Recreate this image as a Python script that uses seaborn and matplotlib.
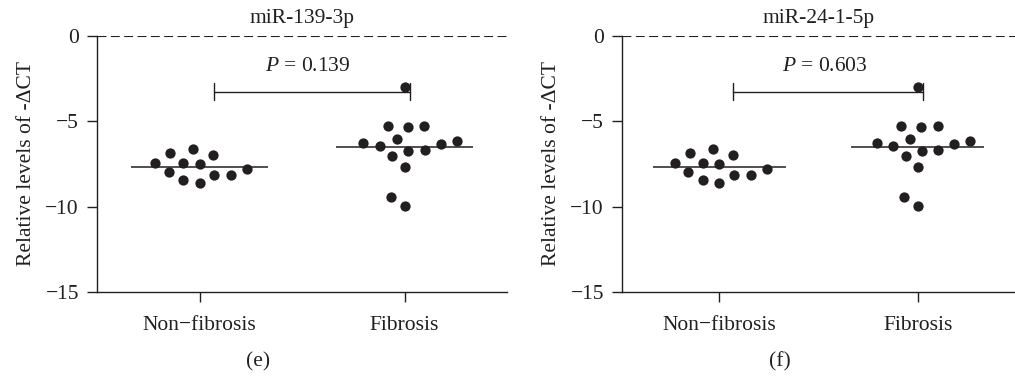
import numpy as np
import pandas as pd
import matplotlib
matplotlib.use("Agg")
import matplotlib.pyplot as plt
import seaborn as sns

# ---- data ----
groups = ["Non\u2212fibrosis", "Fibrosis"]
titles = ["miR-139-3p", "miR-24-1-5p"]
panel_labels = ["(e)", "(f)"]
p_values = ["0.139", "0.603"]

mir139_nonfib = [-6.63, -6.96, -7.45, -7.49, -7.43, -6.83, -7.96, -8.12, -8.61, -8.45, -8.16, -7.82]
mir139_fib = [-2.97, -5.26, -5.36, -5.26, -6.06, -6.26, -6.42, -6.73, -6.69, -6.34, -6.14, -7.04, -7.69, -9.43, -9.97]
mir24_nonfib = [-6.63, -6.96, -7.45, -7.49, -7.43, -6.83, -7.96, -8.12, -8.61, -8.45, -8.16, -7.82]
mir24_fib = [-2.97, -5.26, -5.36, -5.26, -6.06, -6.26, -6.42, -6.73, -6.69, -6.34, -6.14, -7.04, -7.69, -9.43, -9.97]

y_ticks = [0, -5, -10, -15]

sns.set_theme(style="ticks")
plt.rcParams["font.family"] = ["Liberation Serif", "DejaVu Serif"]
plt.rcParams["mathtext.fontset"] = "custom"
plt.rcParams["mathtext.rm"] = "Liberation Serif"
plt.rcParams["mathtext.it"] = "Liberation Serif:italic"
plt.rcParams["axes.unicode_minus"] = True

ink = "#231f20"
fs = 15.5

fig = plt.figure(figsize=(10.15, 3.77), dpi=100)
ax_l = fig.add_axes([97 / 1015, 1 - 292 / 377, 410 / 1015, 256 / 377])
ax_r = fig.add_axes([622 / 1015, 1 - 292 / 377, 393 / 1015, 256 / 377])

panels = [
    (ax_l, mir139_nonfib, mir139_fib, titles[0], p_values[0], panel_labels[0], 258 / 1015, (-0.5, 1.5)),
    (ax_r, mir24_nonfib, mir24_fib, titles[1], p_values[1], panel_labels[1], 780 / 1015, (-0.49, 1.49)),
]

for ax, nf, fb, title, pv, plab, labx, xlim in panels:
    df = pd.DataFrame({
        "group": [groups[0]] * len(nf) + [groups[1]] * len(fb),
        "value": nf + fb,
    })
    ax.set_xlim(*xlim)
    ax.set_ylim(-15, 0)
    # lay the swarm out with a wider spacing, then draw the dots at their true size
    sns.swarmplot(data=df, x="group", y="value", order=groups, ax=ax,
                  color=ink, size=11.5, linewidth=0)
    ax.set_xlim(*xlim)
    ax.set_ylim(-15, 0)
    fig.canvas.draw()
    for coll in ax.collections:
        if "draw" in coll.__dict__:
            del coll.draw
        coll.set_sizes([7.4 ** 2])
    means = df.groupby("group", sort=False)["value"].mean()
    for i, g in enumerate(groups):
        ax.hlines(means[g], i - 0.335, i + 0.335, color=ink, lw=1.1, zorder=1)

    ax.axhline(0, color=ink, lw=0.8, ls=(0, (8, 4)), zorder=0)
    ax.set_ylim(-15, 0)
    ax.set_xlim(*xlim)
    ax.set_yticks(y_ticks)
    ax.set_yticklabels([f"{t:d}".replace("-", "\u2212") for t in y_ticks])
    ax.set_xlabel("")
    ax.set_ylabel("Relative levels of -\u0394CT", fontsize=fs, color=ink, labelpad=7)
    ax.set_title(title, fontsize=fs, color=ink, pad=9)

    for side in ["top", "right"]:
        ax.spines[side].set_visible(False)
    for side in ["left", "bottom"]:
        ax.spines[side].set_color(ink)
        ax.spines[side].set_linewidth(1.0)
    ax.tick_params(axis="both", colors=ink, labelsize=fs, length=7, width=1.0, direction="out")
    ax.tick_params(axis="x", pad=10)
    ax.tick_params(axis="y", pad=6)

    # significance bracket
    yb = -3.3
    ax.plot([0.07, 1.025], [yb, yb], color=ink, lw=1.0)
    ax.plot([0.07, 0.07], [yb + 0.55, yb - 0.45], color=ink, lw=1.0)
    ax.plot([1.025, 1.025], [yb + 0.55, yb - 0.45], color=ink, lw=1.0)
    ax.text(0.53, -1.8, f"$P$ = {pv}", ha="center", va="center", fontsize=fs, color=ink)

    fig.text(labx, 1 - 362 / 377, plab, ha="center", va="center", fontsize=fs, color=ink)

fig.savefig("out.png", dpi=100)
